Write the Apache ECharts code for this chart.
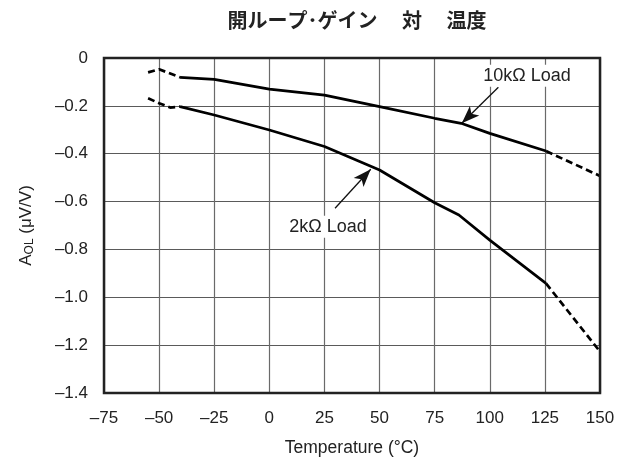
<!DOCTYPE html>
<html><head><meta charset="utf-8">
<script src="https://cdn.jsdelivr.net/npm/echarts@6/dist/echarts.min.js"></script>
<style>html,body{margin:0;padding:0;background:#fff}#c{width:635px;height:463px}</style>
</head><body><div id="c"></div>
<script>
// 10kΩ load
const x10kDashA = [-55, -50, -40.5];
const y10kDashA = [-0.06, -0.047, -0.081];
const x10kSolid = [-40.5, -25, 0, 25, 50, 75, 87, 100, 125.5];
const y10kSolid = [-0.081, -0.089, -0.13, -0.155, -0.203, -0.252, -0.273, -0.315, -0.389];
const x10kDashB = [125.5, 150];
const y10kDashB = [-0.389, -0.493];
// 2kΩ load
const x2kDashA = [-55, -50, -45, -40.5];
const y2kDashA = [-0.168, -0.189, -0.207, -0.203];
const x2kSolid = [-40.5, -25, 0, 25, 50, 75, 86, 100, 125.5];
const y2kSolid = [-0.203, -0.238, -0.301, -0.37, -0.468, -0.605, -0.656, -0.761, -0.942];
const x2kDashB = [125.5, 150];
const y2kDashB = [-0.942, -1.227];

const xTicks = [-75, -50, -25, 0, 25, 50, 75, 100, 125, 150];
const yTicks = [0, -0.2, -0.4, -0.6, -0.8, -1.0, -1.2, -1.4];

const labels = [
  {text: '10kΩ Load', at: [116.9, -0.074], from: [103.9, -0.122], to: [87.3, -0.273]},
  {text: '2kΩ Load', at: [26.6, -0.705], from: [29.8, -0.628], to: [46.0, -0.465]}
];

const zip = (xs, ys) => xs.map((x, i) => [x, ys[i]]);
const FONT = '"Liberation Sans", Arial, sans-serif';
const lineSeries = (xs, ys, dashed) => ({
  type: 'line', data: zip(xs, ys), showSymbol: false, symbol: 'none', silent: true,
  lineStyle: {color: '#000', width: 2.7, type: dashed ? [7, 4] : 'solid'}, z: 5
});
const fmt = v => {
  const r = Math.round(v * 10) / 10;
  if (r === 0) return '0';
  return (r < 0 ? '–' : '') + Math.abs(r).toFixed(1);
};

const chart = echarts.init(document.getElementById('c'), null, {renderer: 'canvas'});
chart.setOption({
  animation: false,
  backgroundColor: '#fff',
  title: {
    text: '開ループ･ゲイン　 対　 温度', left: 352, top: 5, textAlign: 'center',
    textStyle: {fontFamily: '"Noto Sans CJK JP", sans-serif', fontSize: 20, fontWeight: 'bold', color: '#222'}
  },
  grid: {left: 104, right: 35, top: 58, bottom: 70, show: true, borderColor: '#222', borderWidth: 2.5, z: 10},
  xAxis: {
    type: 'value', min: -75, max: 150, interval: 25,
    name: 'Temperature (°C)', nameLocation: 'middle', nameGap: 46,
    nameTextStyle: {fontFamily: FONT, fontSize: 17.5, color: '#222'},
    axisLine: {show: false}, axisTick: {show: false},
    axisLabel: {fontFamily: FONT, fontSize: 17, color: '#222', margin: 17,
      formatter: v => { const r = Math.round(v); return xTicks.includes(r) ? (r < 0 ? '–' + Math.abs(r) : String(r)) : ''; }},
    splitLine: {show: true, lineStyle: {color: '#6a6a6a', width: 1.2}}
  },
  yAxis: {
    type: 'value', min: -1.4, max: 0, interval: 0.2,
    name: '{a|A}{s|OL}{a| (μV/V)}', nameLocation: 'middle', nameGap: 68, nameRotate: 90,
    nameTextStyle: {rich: {
      a: {fontFamily: FONT, fontSize: 17, color: '#222'},
      s: {fontFamily: FONT, fontSize: 12, color: '#222', verticalAlign: 'bottom', padding: [7, 0, 0, 0]}
    }},
    axisLine: {show: false}, axisTick: {show: false},
    axisLabel: {fontFamily: FONT, fontSize: 17, color: '#222', margin: 16,
      formatter: v => { const r = Math.round(v * 10) / 10; return yTicks.some(t => Math.abs(t - r) < 1e-6) ? fmt(r) : ''; }},
    splitLine: {show: true, lineStyle: {color: '#5a5a5a', width: 1.2}}
  },
  series: [
    lineSeries(x10kDashA, y10kDashA, true),
    lineSeries(x10kSolid, y10kSolid, false),
    lineSeries(x10kDashB, y10kDashB, true),
    lineSeries(x2kDashA, y2kDashA, true),
    lineSeries(x2kSolid, y2kSolid, false),
    lineSeries(x2kDashB, y2kDashB, true),
    {
      type: 'line', data: [], silent: true,
      markLine: {
        silent: true, animation: false, symbol: ['none', 'arrow'], symbolSize: [10, 18],
        lineStyle: {color: '#111', width: 1.3, type: 'solid'}, label: {show: false},
        data: labels.map(l => [{coord: l.from}, {coord: l.to}])
      },
      markPoint: {
        silent: true, symbol: 'rect', symbolSize: 1, itemStyle: {color: 'rgba(0,0,0,0)'},
        data: labels.map(l => ({coord: l.at, label: {
          show: true, formatter: l.text, position: 'inside', fontFamily: FONT, fontSize: 18, color: '#222',
          backgroundColor: '#fff', padding: [2, 3]
        }})),
        z: 20
      }
    }
  ]
});
</script></body></html>
